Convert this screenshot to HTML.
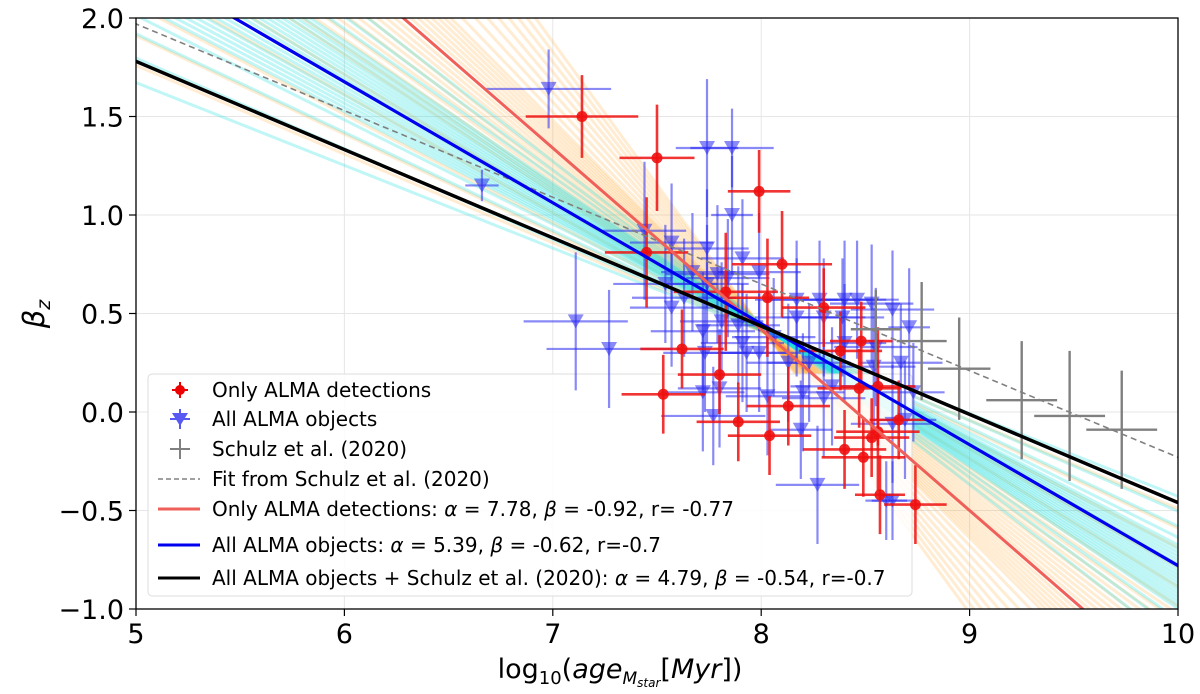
<!DOCTYPE html>
<html><head><meta charset="utf-8"><style>
html,body{margin:0;padding:0;background:#fff;overflow:hidden;width:1200px;height:694px;}
svg{display:block;overflow:hidden;font-family:"DejaVu Sans","Liberation Sans",sans-serif;}
</style></head><body>
<svg id="chart" width="1200" height="694" viewBox="0 0 1200 694">
<defs><clipPath id="clip"><rect x="136" y="18" width="1042" height="591"/></clipPath></defs>
<g id="grid"></g>
<g id="fans" clip-path="url(#clip)"></g>
<rect x="148" y="374" width="764" height="222" rx="4" fill="#fff" fill-opacity="0.85" stroke="#ddd"/>
<g id="points" clip-path="url(#clip)"></g>
<g id="fits" clip-path="url(#clip)"></g>
<rect x="136" y="18" width="1042" height="591" fill="none" stroke="#000" stroke-width="1.3"/>
<g id="axes"></g>
<text x="620" y="678" font-size="27" text-anchor="middle">log<tspan font-size="18" dy="6">10</tspan><tspan dy="-6">(</tspan><tspan font-style="italic">age</tspan><tspan font-size="17" dy="6" font-style="italic">M</tspan><tspan font-size="12" dy="3" font-style="italic">star</tspan><tspan dy="-9">[</tspan><tspan font-style="italic">Myr</tspan>])</text>
<text transform="translate(44,314) rotate(-90)" font-size="29" text-anchor="middle" font-style="italic">β<tspan font-size="19" dy="6">z</tspan></text>
<g id="legend">
<g><line x1="172" y1="390" x2="188" y2="390" stroke="#e00" stroke-width="2"/><line x1="180" y1="382" x2="180" y2="398" stroke="#e00" stroke-width="2"/><circle cx="180" cy="390" r="5" fill="#e00"/><text x="212" y="397" font-size="20">Only ALMA detections</text></g>
<g opacity="0.65"><line x1="170" y1="419" x2="190" y2="419" stroke="#00e" stroke-width="2"/><line x1="180" y1="409" x2="180" y2="429" stroke="#00e" stroke-width="2"/><path d="M172,413 L188,413 L180,426 Z" fill="#00e"/></g>
<text x="212" y="426" font-size="20">All ALMA objects</text>
<g><line x1="170" y1="449" x2="190" y2="449" stroke="#808080" stroke-width="2"/><line x1="180" y1="439" x2="180" y2="459" stroke="#808080" stroke-width="2"/><text x="212" y="456" font-size="20">Schulz et al. (2020)</text></g>
<g><line x1="158" y1="479" x2="200" y2="479" stroke="#808080" stroke-width="1.6" stroke-dasharray="5,3"/><text x="212" y="486" font-size="20">Fit from Schulz et al. (2020)</text></g>
<g><line x1="158" y1="509" x2="200" y2="509" stroke="#f0605a" stroke-width="3"/><text x="212" y="516" font-size="20">Only ALMA detections: <tspan font-style="italic">α</tspan> =  7.78, <tspan font-style="italic">β</tspan> =  -0.92, r= -0.77</text></g>
<g><line x1="158" y1="545" x2="200" y2="545" stroke="#0000ee" stroke-width="3"/><text x="212" y="552" font-size="20">All ALMA objects: <tspan font-style="italic">α</tspan> =  5.39, <tspan font-style="italic">β</tspan> =  -0.62, r=-0.7</text></g>
<g><line x1="158" y1="578" x2="200" y2="578" stroke="#000" stroke-width="3"/><text x="212" y="585" font-size="20">All ALMA objects  + Schulz et al. (2020): <tspan font-style="italic">α</tspan> =  4.79, <tspan font-style="italic">β</tspan> =  -0.54, r=-0.7</text></g>
</g>
</svg>
<script>
const xTicks=[5,6,7,8,9,10];
const yTicks=[2.0,1.5,1.0,0.5,0.0,-0.5,-1.0];
const yTickLabels=["2.0","1.5","1.0","0.5","0.0","−0.5","−1.0"];
const detX=[7.14,7.50,7.99,7.45,8.10,7.83,8.03,8.30,7.62,8.48,8.38,7.80,7.53,8.47,8.56,8.13,7.89,8.04,8.40,8.49,8.53,8.56,8.57,8.74,8.66];
const detY=[1.50,1.29,1.12,0.81,0.75,0.61,0.58,0.53,0.32,0.36,0.31,0.19,0.09,0.12,0.13,0.03,-0.05,-0.12,-0.19,-0.23,-0.13,-0.10,-0.42,-0.47,-0.04];
const detXe=[0.27,0.18,0.15,0.2,0.24,0.25,0.2,0.2,0.2,0.15,0.2,0.2,0.2,0.2,0.18,0.2,0.2,0.2,0.2,0.2,0.18,0.2,0.12,0.15,0.14];
const detYe=[0.21,0.27,0.21,0.28,0.27,0.3,0.3,0.2,0.2,0.2,0.2,0.2,0.2,0.2,0.3,0.2,0.2,0.2,0.2,0.2,0.2,0.3,0.2,0.2,0.2];
const allX=[6.98,6.66,7.74,7.86,7.44,7.57,7.74,7.86,7.67,7.79,7.91,7.99,7.54,7.63,7.74,7.84,7.57,7.11,7.27,7.72,7.81,7.89,7.91,7.93,7.99,7.73,8.06,8.13,8.23,8.17,8.17,8.28,8.30,8.40,8.46,8.53,8.63,8.39,8.71,8.40,8.55,8.54,8.67,8.73,8.34,8.20,8.30,8.03,7.72,7.80,7.77,8.19,8.27,8.63,8.69,8.60,8.63];
const allY=[1.64,1.15,1.34,1.34,0.92,0.86,0.83,1.0,0.71,0.70,0.78,0.71,0.65,0.58,0.65,0.68,0.53,0.46,0.32,0.41,0.46,0.44,0.35,0.30,0.30,0.30,0.38,0.25,0.25,0.57,0.48,0.57,0.48,0.57,0.57,0.55,0.52,0.48,0.43,0.35,0.33,0.23,0.25,0.10,0.13,0.10,0.07,0.08,0.10,0.12,-0.02,-0.09,-0.37,-0.06,-0.04,-0.45,-0.45];
const allXe=[0.3,0.08,0.15,0.2,0.2,0.2,0.2,0.1,0.15,0.25,0.2,0.2,0.25,0.25,0.2,0.2,0.2,0.25,0.3,0.25,0.2,0.2,0.2,0.2,0.2,0.2,0.2,0.2,0.2,0.2,0.2,0.25,0.2,0.2,0.2,0.2,0.2,0.2,0.1,0.2,0.2,0.2,0.2,0.15,0.2,0.2,0.2,0.2,0.2,0.2,0.25,0.15,0.2,0.2,0.15,0.1,0.1];
const allYe=[0.2,0.08,0.35,0.2,0.35,0.3,0.3,0.3,0.3,0.35,0.3,0.3,0.3,0.3,0.3,0.3,0.3,0.35,0.3,0.3,0.3,0.3,0.3,0.3,0.3,0.3,0.3,0.3,0.3,0.3,0.3,0.3,0.3,0.3,0.3,0.3,0.3,0.3,0.3,0.3,0.3,0.3,0.3,0.25,0.3,0.3,0.3,0.3,0.3,0.3,0.25,0.25,0.3,0.3,0.3,0.2,0.2];
const schX=[8.55,8.77,8.95,9.25,9.48,9.73];
const schY=[0.42,0.36,0.22,0.06,-0.02,-0.09];
const schXe=[0.12,0.12,0.15,0.17,0.17,0.17];
const schYe=[0.2,0.3,0.26,0.3,0.33,0.3];
const fitRed=[7.78,-0.92];
const fitBlue=[5.36,-0.614];
const fitBlack=[4.02,-0.448];
const fitSchulz=[4.17,-0.44];
const orangeSlopes=[-0.5,-0.55,-0.6,-0.65,-0.7,-0.74,-0.78,-0.82,-0.86,-0.9,-0.94,-0.98,-1.02,-1.06,-1.1,-1.15,-1.2,-1.25,-1.3,-1.35,-1.4,-0.72,-0.8,-0.88,-0.96,-1.04,-0.76,-0.84,-0.92,-1.0,-0.45,-1.45];
const cyanSlopes=[-0.42,-0.46,-0.5,-0.53,-0.56,-0.58,-0.6,-0.61,-0.62,-0.63,-0.64,-0.65,-0.66,-0.67,-0.68,-0.7,-0.72,-0.75,-0.78,-0.82,-0.59,-0.57,-0.69,-0.71,-0.55];
const X=v=>136+(v-5)*208.4;
const Y=v=>18+(2-v)*197;
const NS="http://www.w3.org/2000/svg";
function mk(tag,attrs,parent){const e=document.createElementNS(NS,tag);for(const k in attrs)e.setAttribute(k,attrs[k]);parent.appendChild(e);return e;}
const grid=document.getElementById('grid'),axes=document.getElementById('axes');
xTicks.forEach(t=>{
 const g=mk('line',{x1:X(t),x2:X(t),y1:18,y2:609,stroke:'#e6e6e6','stroke-width':1},grid);
 
 
 const tk=mk('line',{x1:X(t),x2:X(t),y1:609,y2:616,stroke:'#000','stroke-width':1.2},axes);
 
 
 const tl=mk('text',{x:X(t),y:643,'font-size':27,'text-anchor':'middle'},axes);tl.textContent=t;
 
 
});
yTicks.forEach((t,i)=>{
 const g=mk('line',{x1:136,x2:1178,y1:Y(t),y2:Y(t),stroke:'#e6e6e6','stroke-width':1},grid);
 
 
 const tk=mk('line',{x1:129,x2:136,y1:Y(t),y2:Y(t),stroke:'#000','stroke-width':1.2},axes);
 
 
 const tl=mk('text',{x:124,y:Y(t)+10,'font-size':27,'text-anchor':'end'},axes);tl.textContent=yTickLabels[i];
 
 
});
const fans=document.getElementById('fans');
function fanLine(px,py,s,col,op,w){
 return mk('line',{x1:X(4.9),y1:Y(py+s*(4.9-px)),x2:X(10.1),y2:Y(py+s*(10.1-px)),stroke:col,'stroke-opacity':op,'stroke-width':w},fans);
}
orangeSlopes.forEach(s=>{const l=fanLine(8.02,0.40,s,'#ffa020',0.2,3);
 
 });
cyanSlopes.forEach(s=>{const l=fanLine(8.1,0.37,s,'#20e0e0',0.28,3);
 
 });
const pts=document.getElementById('points');
function errbar(x,y,xe,ye,col,w,op,g){
 mk('line',{x1:X(x-xe),x2:X(x+xe),y1:Y(y),y2:Y(y),stroke:col,'stroke-width':w,'stroke-opacity':op},g);
 mk('line',{x1:X(x),x2:X(x),y1:Y(y+ye),y2:Y(y-ye),stroke:col,'stroke-width':w,'stroke-opacity':op},g);
}
allX.forEach((x,i)=>{const g=mk('g',{},pts);
 
 
 errbar(x,allY[i],allXe[i],allYe[i],'#2a2af0',2.2,0.55,g);
 const cx=X(x),cy=Y(allY[i]);
 mk('path',{d:`M${cx-8},${cy-7} L${cx+8},${cy-7} L${cx},${cy+7} Z`,fill:'#2a2af0','fill-opacity':0.55},g);});
detX.forEach((x,i)=>{const g=mk('g',{},pts);
 
 
 errbar(x,detY[i],detXe[i],detYe[i],'#ee1010',2.6,0.85,g);
 mk('circle',{cx:X(x),cy:Y(detY[i]),r:5.5,fill:'#ee1010','fill-opacity':0.9},g);});
schX.forEach((x,i)=>{const g=mk('g',{},pts);
 
 
 errbar(x,schY[i],schXe[i],schYe[i],'#808080',2.4,1,g);});
const fits=document.getElementById('fits');
function fit(p,col,w,dash,name){
 const l=mk('line',{x1:X(4.9),y1:Y(p[0]+p[1]*4.9),x2:X(10.1),y2:Y(p[0]+p[1]*10.1),stroke:col,'stroke-width':w},fits);
 if(dash)l.setAttribute('stroke-dasharray',dash);
 
 
}
fit(fitSchulz,'#808080',1.6,'6,4','schulz-fit-line');
fit(fitRed,'#f0605a',3,null,'detections-fit-line');
fit(fitBlue,'#0000ee',3.2,null,'all-objects-fit-line');
fit(fitBlack,'#000',3.5,null,'combined-fit-line');
</script>
</body></html>
